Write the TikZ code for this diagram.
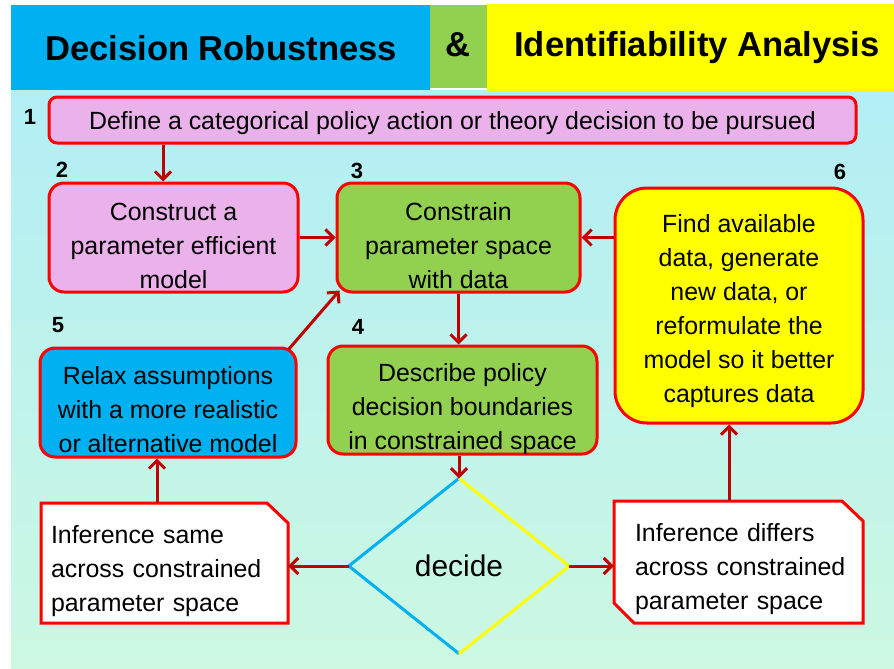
\documentclass[tikz,border=0pt]{standalone}
\usepackage{fontspec}
\setmainfont{Liberation Sans}
\usetikzlibrary{arrows.meta,shapes.geometric,backgrounds}
\definecolor{bgtop}{HTML}{B2EEF5}
\definecolor{bgbot}{HTML}{CCF8E2}
\definecolor{tblue}{HTML}{00B0F0}
\definecolor{tgreen}{HTML}{92D050}
\definecolor{tyellow}{HTML}{FFFF00}
\definecolor{tpink}{HTML}{EBB1EB}
\definecolor{bred}{HTML}{FF0000}
\definecolor{adark}{HTML}{C00000}
\tikzset{
  box/.style={draw=bred, line width=3pt, inner sep=0pt},
  btext/.style={align=center, inner sep=0pt, font=\fontsize{24.9}{34}\selectfont},
  numlab/.style={font=\fontsize{22}{26}\selectfont\bfseries, inner sep=0pt},
  ttl/.style={font=\fontsize{34.6}{40}\selectfont\bfseries, inner sep=0pt},
  arr/.style={draw=adark, line width=3pt, -{Straight Barb[length=8pt,width=16pt]}},
  noteframe/.style={inner sep=0pt},
  notetext/.style={align=left, inner sep=0pt, font=\fontsize{24.9}{34}\selectfont},
  notedraw/.style={draw=bred, fill=white, line width=3pt},
}
\begin{document}
\begin{tikzpicture}[x=1pt,y=-1pt]
\useasboundingbox (0,0) rectangle (894,669);
\fill[white] (0,0) rectangle (894,669);
\shade[top color=bgtop, bottom color=bgbot] (11,90) rectangle (894,669);
% title
\fill[tblue] (11,5) rectangle (430,90);
\fill[tgreen] (430,5) rectangle (487,88);
\fill[tyellow] (487,4) rectangle (894,91);
\node[ttl] (t1) at (221,48) {Decision Robustness};
\node[ttl] (t2) at (458,45) {\&};
\node[ttl] (t3) at (697,48) {Identifiability Analysis};
% boxes
\node[box, fill=tpink, rounded corners=8pt, minimum width=807pt, minimum height=46pt] (b1) at (452.5,120) {};
\node[btext] (b1t) at (452.5,123) {Define a categorical policy action or theory decision to be pursued};
\node[box, fill=tpink, rounded corners=15pt, minimum width=249pt, minimum height=109pt] (b2) at (173.5,237.5) {};
\node[btext] (b2t) at (173.5,245.5) {Construct a\\parameter efficient\\model};
\node[box, fill=tgreen, rounded corners=15pt, minimum width=243pt, minimum height=109pt] (b3) at (458.5,237.5) {};
\node[btext] (b3t) at (458.5,245.5) {Constrain\\parameter space\\with data};
\node[box, fill=tgreen, rounded corners=15pt, minimum width=269pt, minimum height=108pt] (b4) at (462.5,400) {};
\node[btext] (b4t) at (462.5,409) {Describe policy\\decision boundaries\\in constrained space};
\node[box, fill=tblue, rounded corners=15pt, minimum width=256pt, minimum height=109pt] (b5) at (168,402.5) {};
\node[btext] (b5t) at (168,410) {Relax assumptions\\with a more realistic\\or alternative model};
\node[box, fill=tyellow, rounded corners=32pt, minimum width=248pt, minimum height=235pt] (b6) at (739,305.5) {};
\node[btext] (b6t) at (739,311) {Find available\\data, generate\\new data, or\\reformulate the\\model so it better\\captures data};
% notes
\draw[notedraw] (41,503) -- (267,503) -- (288,523) -- (288,623) -- (41,623) -- cycle;
\draw[notedraw] (614,501) -- (842,501) -- (863,521) -- (863,623) -- (634,623) -- (614,603) -- cycle;
\node[noteframe, minimum width=247pt, minimum height=120pt] (ln) at (164.5,563) {};
\node[notetext, text width=227pt] (lnt) at (164.5,571) {Inference same\\across constrained\\parameter space};
\node[noteframe, minimum width=249pt, minimum height=122pt] (rn) at (738.5,562) {};
\node[notetext, text width=226pt] (rnt) at (748,569) {Inference differs\\across constrained\\parameter space};
% diamond
\node[diamond, minimum width=220pt, minimum height=175pt, inner sep=0pt, font=\fontsize{29.9}{34}\selectfont] (d) at (459,566) {decide};
\draw[tblue, line width=3pt] (d.north) -- (d.west) -- (d.south);
\draw[tyellow, line width=3pt] (d.north) -- (d.east) -- (d.south);
% numbers
\node[numlab] (n1) at (30,117) {1};
\node[numlab] (n2) at (62,170) {2};
\node[numlab] (n3) at (357,171) {3};
\node[numlab] (n4) at (358,327) {4};
\node[numlab] (n5) at (58,325) {5};
\node[numlab] (n6) at (840,172) {6};
% connectors
\coordinate (xa) at (163,0);
\coordinate (xb) at (157,0);
\coordinate (xc) at (729,0);
\draw[arr] (b1.south -| xa) -- (b2.north -| xa);
\draw[arr] (b2.east) -- (b3.west);
\draw[arr] ([xshift=-9pt,yshift=-3pt]b5.north east) -- ([xshift=4pt,yshift=3pt]b3.south west);
\draw[arr] (b3.east -| b6.west) -- (b3.east);
\draw[arr] (b3.south) -- (b3.south |- b4.north);
\draw[arr] (d.north |- b4.south) -- (d.north);
\draw[arr] (d.west) -- (d.west -| ln.east);
\draw[arr] (d.east) -- (d.east -| rn.west);
\draw[arr] (ln.north -| xb) -- (b5.south -| xb);
\draw[arr] (rn.north -| xc) -- (b6.south -| xc);
\end{tikzpicture}
\end{document}
